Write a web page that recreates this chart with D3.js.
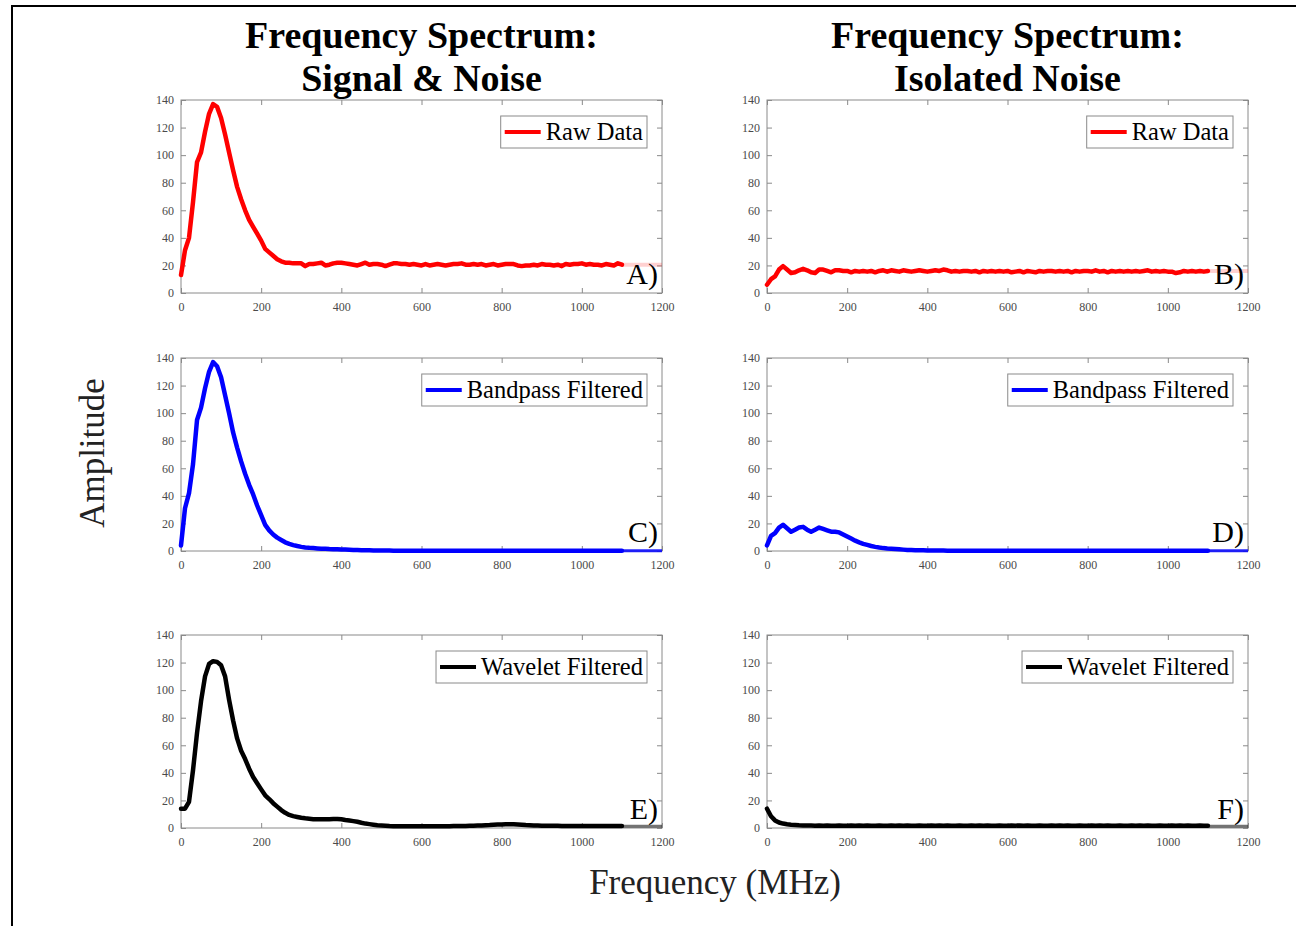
<!DOCTYPE html>
<html><head><meta charset="utf-8">
<script src="https://cdn.jsdelivr.net/npm/d3@7"></script>
<style>body{margin:0;background:#fff} svg{display:block}</style>
</head><body>
<svg id="chart" width="1296" height="926"></svg>
<script>
// ---------------- DATA ----------------
const freq = [0,10,20,30,40,50,60,70,80,90,100,
110,120,130,140,150,160,170,180,190,200,
210,220,230,240,250,260,270,280,290,300,
310,320,330,340,350,360,370,380,390,400,
410,420,430,440,450,460,470,480,490,500,
510,520,530,540,550,560,570,580,590,600,
610,620,630,640,650,660,670,680,690,700,
710,720,730,740,750,760,770,780,790,800,
810,820,830,840,850,860,870,880,890,900,
910,920,930,940,950,960,970,980,990,1000,
1010,1020,1030,1040,1050,1060,1070,1080,1090,1100];

const rawSignal = [13,31,40,66,95,102,117,130,137,135,127,
115,102,89,77,68,60,53,48,43,38,
32,29.5,27,24.5,23,22,22,21.5,21.5,21.5,
19.5,21,21,21.5,22,20,20.5,21.5,22,22,
21.5,21,20.5,20,21,22,20.5,21,21,20.5,
19.5,20.5,21.5,21.5,21,21,20.5,21,20.5,20,
21,20,20.5,21,20.5,20,20.5,21,21,21.5,
20.5,20.5,21,20.5,21,20,20.5,21,20,20.5,
21,21,21,20,19.5,20,20,20.5,20,21,
20.5,20.5,20,20.5,19.5,21,20.5,21,21,21.5,
20.5,21,20.5,20.5,20,21,20.5,20,21.5,20.5];

const rawNoise = [6,10,12,17,19.5,17,14.5,15,16.5,17.5,16.5,
15,14.5,17,17,16,15,16.5,16.5,16,16,
15,16,15.5,16,15.5,16,15,16,16.5,15.5,
16.5,16,15.5,16.5,16,15.5,16,16.5,16,15.5,
16,16.5,16,17,16.5,15.5,16,15.5,16,16,
15.5,16,15,16,15.5,16,15.5,16,15.5,16,
15,15.5,16,15,16,15.5,15,16,15.5,16,
16,15.5,16,15.5,16,15,16,15.5,16,16,
15.5,16.5,15.5,16,15,16,15.5,16,15.5,16,
15.5,16,15.5,16,16.5,15.5,16,15.5,16,15.5,
15.5,14.5,15,16,15.5,16,15.5,16,15.5,16];

const bandpassSignal = [4,31,42,63,95,104,118,130,137,134,126,
113,100,86,75,65,56,48,41,33,26,
19,15,12,9.7,8,6.3,5.2,4.3,3.6,3,
2.6,2.3,2.1,1.9,1.7,1.6,1.4,1.3,1.2,1.1,
1,0.9,0.8,0.7,0.6,0.5,0.5,0.4,0.4,0.3,
0.3,0.3,0.2,0.2,0.2,0.2,0.2,0.2,0.2,0.2,
0.2,0.2,0.2,0.2,0.2,0.2,0.2,0.2,0.2,0.2,
0.2,0.2,0.2,0.2,0.2,0.2,0.2,0.2,0.2,0.2,
0.2,0.2,0.2,0.2,0.2,0.2,0.2,0.2,0.2,0.2,
0.2,0.2,0.2,0.2,0.2,0.2,0.2,0.2,0.2,0.2,
0.2,0.2,0.2,0.2,0.2,0.2,0.2,0.2,0.2,0.2];

const bandpassNoise = [4,11,13,17,19,16.5,14,15.5,17,17.5,15.5,
14,15.5,17,16,15,14,14,13.5,12,10.5,
9,7.5,6.3,5.2,4.4,3.6,3,2.5,2.1,1.8,
1.6,1.4,1.2,1,0.8,0.7,0.6,0.5,0.5,0.4,
0.4,0.3,0.3,0.3,0.2,0.2,0.2,0.2,0.2,0.2,
0.2,0.2,0.2,0.2,0.2,0.2,0.2,0.2,0.2,0.2,
0.2,0.2,0.2,0.2,0.2,0.2,0.2,0.2,0.2,0.2,
0.2,0.2,0.2,0.2,0.2,0.2,0.2,0.2,0.2,0.2,
0.2,0.2,0.2,0.2,0.2,0.2,0.2,0.2,0.2,0.2,
0.2,0.2,0.2,0.2,0.2,0.2,0.2,0.2,0.2,0.2,
0.2,0.2,0.2,0.2,0.2,0.2,0.2,0.2,0.2,0.2];

const waveletSignal = [14,14,19,42,69,92,110,119,121,120.5,118,
110,93,78,65,56,50,43,37,32.5,28,
23.7,21,18,15.5,13,11,9.5,8.6,8,7.4,
7,6.7,6.4,6.3,6.3,6.3,6.4,6.5,6.6,6.3,
5.8,5.4,5,4.5,3.8,3.2,2.8,2.4,2,1.8,
1.6,1.4,1.3,1.3,1.3,1.3,1.3,1.3,1.3,1.3,
1.3,1.3,1.3,1.3,1.3,1.3,1.3,1.4,1.4,1.4,
1.5,1.6,1.7,1.8,1.9,2,2.1,2.3,2.5,2.6,
2.8,2.8,2.7,2.5,2.3,2.1,2,1.9,1.8,1.7,
1.7,1.6,1.6,1.6,1.5,1.5,1.5,1.5,1.5,1.5,
1.5,1.5,1.5,1.5,1.5,1.5,1.5,1.5,1.5,1.5];

const waveletNoise = [14,8.5,5.5,4,3.2,2.7,2.4,2.2,2,1.9,1.9,
1.8,1.7,1.9,1.7,1.8,1.6,1.7,1.8,1.7,1.6,
1.8,1.7,1.9,1.7,1.8,1.6,1.7,1.8,1.7,1.6,
1.8,1.7,1.9,1.7,1.8,1.6,1.7,1.8,1.7,1.6,
1.8,1.7,1.9,1.7,1.8,1.6,1.7,1.8,1.7,1.6,
1.8,1.7,1.9,1.7,1.8,1.6,1.7,1.8,1.7,1.6,
1.8,1.7,1.9,1.7,1.8,1.6,1.7,1.8,1.7,1.6,
1.8,1.7,1.9,1.7,1.8,1.6,1.7,1.8,1.7,1.6,
1.8,1.7,1.9,1.7,1.8,1.6,1.7,1.8,1.7,1.6,
1.8,1.7,1.9,1.7,1.8,1.6,1.7,1.8,1.7,1.6,
1.8,1.7,1.9,1.7,1.8,1.6,1.7,1.8,1.7,1.6];

// faint continuation beyond 1100 MHz
const tailFreq = [1100, 1200];
const tailValues = [[20.5,20.5],[16,16],[0.2,0.2],[0.2,0.2],[1.3,1.3],[1.3,1.3]];

const xTicks = [0,200,400,600,800,1000,1200];
const yTicks = [0,20,40,60,80,100,120,140];
const columnTitles = [["Frequency Spectrum:","Signal & Noise"],["Frequency Spectrum:","Isolated Noise"]];
const legendNames = ["Raw Data","Bandpass Filtered","Wavelet Filtered"];
const panelLetters = ["A)","B)","C)","D)","E)","F)"];
const seriesColors = ["#ff0000","#0000ff","#000000"];
const seriesData = [rawSignal, rawNoise, bandpassSignal, bandpassNoise, waveletSignal, waveletNoise];
const xLabel = "Frequency (MHz)";
const yLabel = "Amplitude";

// ---------------- LAYOUT ----------------
const svg = d3.select("#chart");
const FONT = "'Liberation Serif','Times New Roman',serif";
const colX = [181, 767], rowY = [100, 358, 635];
const W = 481, H = 193;

svg.append("rect").attr("x",12).attr("y",6).attr("width",1400).attr("height",1100)
  .attr("fill","none").attr("stroke","#000").attr("stroke-width",2);

const x = d3.scaleLinear().domain([0,1200]).range([0,W]);
const y = d3.scaleLinear().domain([0,140]).range([H,0]);
const line = d3.line().x(d => x(d[0])).y(d => y(d[1]));

seriesData.forEach((vals, i) => {
  const col = i % 2, row = Math.floor(i / 2);
  const g = svg.append("g").attr("transform", `translate(${colX[col]},${rowY[row]})`);
  g.append("rect").attr("width",W).attr("height",H).attr("fill","#fff");

  const tickStyle = sel => { sel.select(".domain").remove();
    sel.selectAll("line").attr("stroke","#8a8a8a");
    sel.selectAll("text").attr("fill","#4a4a4a").attr("font-family",FONT).attr("font-size",12); };
  g.append("g").attr("transform",`translate(0,${H})`)
    .call(d3.axisBottom(x).tickValues(xTicks).tickSize(-5).tickPadding(9).tickFormat(d3.format("d"))).call(tickStyle);
  g.append("g").call(d3.axisTop(x).tickValues(xTicks).tickSize(-5).tickFormat("")).call(tickStyle);
  g.append("g")
    .call(d3.axisLeft(y).tickValues(yTicks).tickSize(-5).tickPadding(7).tickFormat(d3.format("d"))).call(tickStyle);
  g.append("g").attr("transform",`translate(${W},0)`)
    .call(d3.axisRight(y).tickValues(yTicks).tickSize(-5).tickFormat("")).call(tickStyle);
  g.append("rect").attr("width",W).attr("height",H).attr("fill","none").attr("stroke","#8a8a8a").attr("stroke-width",1);

  const color = seriesColors[row];
  const tail = tailFreq.map((f,k) => [f, tailValues[i][k]]);
  g.append("path").attr("d", line(tail)).attr("fill","none").attr("stroke",color)
    .attr("stroke-width", row === 0 ? 4 : 3).attr("stroke-opacity", row === 0 ? 0.18 : (row === 1 ? 0.85 : 0.55));
  g.append("path").attr("d", line(freq.map((f,k) => [f, vals[k]])))
    .attr("fill","none").attr("stroke",color).attr("stroke-width",4.5)
    .attr("stroke-linejoin","round").attr("stroke-linecap","round");

  // legend
  const lg = g.append("g");
  const box = lg.append("rect").attr("y",16).attr("height",32).attr("fill","#fff").attr("stroke","#8a8a8a");
  const txt = lg.append("text").text(legendNames[row]).attr("font-family",FONT).attr("font-size",24.5)
    .attr("fill","#000").attr("y",40);
  const tw = txt.node().getComputedTextLength();
  const bw = 4 + 36 + 5 + tw + 4;
  const bx = W - 15 - bw;
  box.attr("x", bx).attr("width", bw);
  txt.attr("x", bx + 45);
  lg.append("line").attr("x1",bx+4).attr("x2",bx+40).attr("y1",32).attr("y2",32)
    .attr("stroke",color).attr("stroke-width",4);

  g.append("text").text(panelLetters[i]).attr("x",W-4).attr("y",H-9).attr("text-anchor","end")
    .attr("font-family",FONT).attr("font-size",30).attr("fill","#000");
});

// column titles
columnTitles.forEach((lines, c) => {
  lines.forEach((t, k) => {
    svg.append("text").text(t).attr("x", colX[c] + W/2).attr("y", 48 + k*43)
      .attr("text-anchor","middle").attr("font-family",FONT).attr("font-weight","bold")
      .attr("font-size",38).attr("fill","#000");
  });
});

svg.append("text").text(yLabel).attr("transform","translate(104,453) rotate(-90)")
  .attr("text-anchor","middle").attr("font-family",FONT).attr("font-size",35).attr("fill","#222");
svg.append("text").text(xLabel).attr("x",715).attr("y",894)
  .attr("text-anchor","middle").attr("font-family",FONT).attr("font-size",35).attr("fill","#222");
</script>
</body></html>
